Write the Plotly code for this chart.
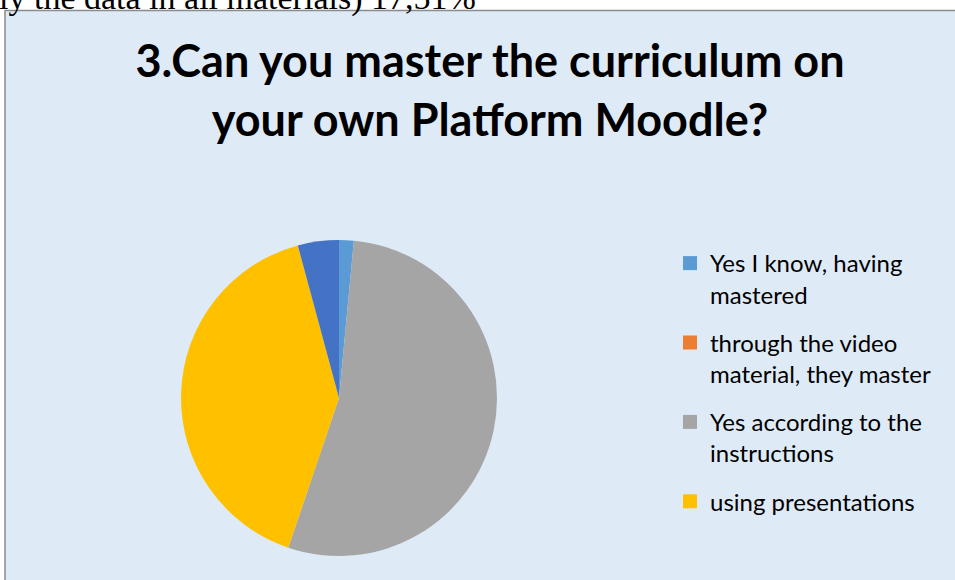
import plotly.graph_objects as go

# ---- data ----
labels = [
    "Yes I know, having<br>mastered",
    "through the video<br>material, they master",
    "Yes according to the<br>instructions",
    "using presentations",
    "other",
]
values = [1.5, 0.0, 53.7, 40.6, 4.2]
colors = ["#5B9BD5", "#ED7D31", "#A5A5A5", "#FFC000", "#4472C4"]
legend_count = 4  # only the first four entries are visible in the reference
title_text = "3.Can you master the curriculum on<br>your own Platform Moodle?"
top_text = "ly the data in all materials) 17,51%"

W, H = 955, 580

fig = go.Figure()

fig.add_trace(go.Pie(
    labels=labels,
    values=values,
    marker=dict(colors=colors, line=dict(width=0)),
    sort=False,
    direction="clockwise",
    rotation=0,
    textinfo="none",
    hoverinfo="label+percent",
    showlegend=False,
    domain=dict(x=[181 / W, 497 / W], y=[1 - 556 / H, 1 - 240 / H]),
))

for i in range(legend_count):
    fig.add_trace(go.Scatter(
        x=[None], y=[None], mode="markers",
        marker=dict(symbol="square", size=14, color=colors[i]),
        name=labels[i], legendgroup=f"g{i}", showlegend=True,
    ))

fig.update_layout(
    width=W, height=H,
    margin=dict(l=0, r=0, t=0, b=0),
    paper_bgcolor="white",
    plot_bgcolor="rgba(0,0,0,0)",
    xaxis=dict(visible=False),
    yaxis=dict(visible=False),
    title=dict(
        text="<b>" + title_text + "</b>",
        font=dict(family="Lato", size=45, color="black"),
        x=490 / W, xanchor="center",
        y=1 - 77 / H, yanchor="top",
    ),
    legend=dict(
        x=670 / W, xanchor="left",
        y=1 - 241 / H, yanchor="top",
        font=dict(family="Lato", size=24, color="black"),
        bgcolor="rgba(0,0,0,0)",
        traceorder="grouped",
        tracegroupgap=14,
        itemwidth=30,
        valign="top",
    ),
    shapes=[dict(
        type="rect", xref="paper", yref="paper",
        x0=5 / W, x1=1.2, y0=-0.2, y1=1 - 10.5 / H,
        fillcolor="#DEEBF7", line=dict(color="#8C8C8C", width=1.5),
        layer="below",
    )],
    annotations=[dict(
        text=top_text, xref="paper", yref="paper",
        x=-3 / W, xanchor="left", y=1 - 19 / H, yanchor="bottom",
        showarrow=False,
        font=dict(family="Liberation Serif", size=34, color="black"),
    )],
)

fig.write_html(
    "out.html",
    config={"displayModeBar": False},
    post_script="document.body.style.margin='0';document.body.style.overflow='hidden';",
)
